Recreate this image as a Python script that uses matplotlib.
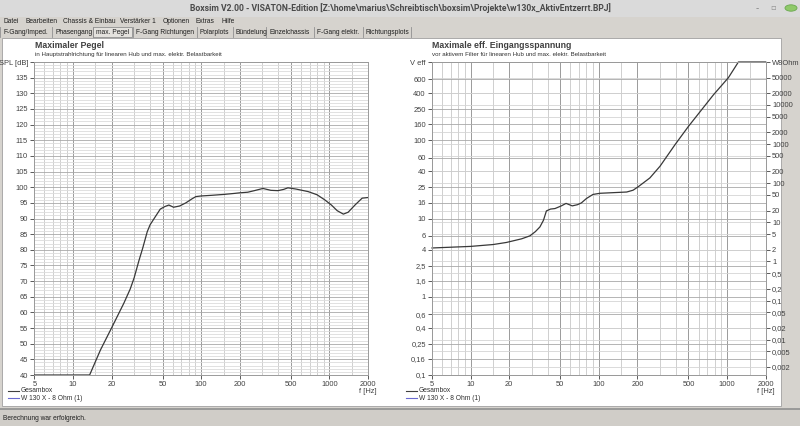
import numpy as np
import matplotlib.pyplot as plt
from matplotlib.patches import Rectangle, Circle
from matplotlib.lines import Line2D
from matplotlib.ticker import FixedLocator, NullFormatter

# ---- data ----
spl_freq = [5, 10, 13.5, 16.4, 20, 25, 28, 30, 32.7, 35, 38, 40, 43, 48, 52, 56, 61, 68, 76, 85, 91,
            100, 120, 151, 180, 200, 231, 260, 303, 350, 397, 440, 475, 550, 682, 800, 917,
            1037, 1150, 1285, 1400, 1583, 1800, 2000]
spl_db = [40, 40, 40, 48, 55, 63, 67.5, 71, 76.5, 80.5, 85.8, 88, 90, 93, 93.8, 94.3, 93.6, 94, 95, 96.3, 97,
          97.2, 97.4, 97.7, 98, 98.2, 98.4, 98.9, 99.6, 99, 98.9, 99.3, 99.8, 99.4, 98.6, 97.6, 96,
          94.3, 92.5, 91.4, 92, 94.3, 96.5, 96.7]

volt_freq = [5, 10, 15, 19, 25, 29, 32, 34.7, 37, 39, 42, 45.5, 51, 55.5, 62, 68, 73, 80, 90,
             102, 130, 165, 185, 203, 250, 300, 393, 499, 630, 782, 1024, 1225, 2000]
volt = [4.2, 4.4, 4.65, 4.94, 5.5, 6.0, 6.8, 7.8, 9.5, 12.5, 13.2, 13.4, 14.5, 15.6, 14.5, 15.0, 15.8, 18, 20.3,
        21, 21.4, 21.8, 23, 25.5, 33, 46.6, 88, 150, 243, 380, 631, 1000, 1000]

freq_ticks = [5, 10, 20, 50, 100, 200, 500, 1000, 2000]
freq_minor = [6, 7, 8, 9, 15, 30, 40, 60, 70, 80, 90, 150, 300, 400, 600, 700, 800, 900, 1500]
spl_ticks = list(range(40, 140, 5))
volt_ticks = [0.1, 0.16, 0.25, 0.4, 0.6, 1, 1.6, 2.5, 4, 6, 10, 16, 25, 40, 60, 100, 160, 250, 400, 600]
volt_labels = ["0,1", "0,16", "0,25", "0,4", "0,6", "1", "1,6", "2,5", "4", "6", "10", "16", "25",
               "40", "60", "100", "160", "250", "400", "600"]
watt_ticks = [50000, 20000, 10000, 5000, 2000, 1000, 500, 200, 100, 50, 20, 10, 5, 2, 1, 0.5, 0.2,
              0.1, 0.05, 0.02, 0.01, 0.005, 0.002]
watt_labels = ["50000", "20000", "10000", "5000", "2000", "1000", "500", "200", "100", "50", "20",
               "10", "5", "2", "1", "0,5", "0,2", "0,1", "0,05", "0,02", "0,01", "0,005", "0,002"]

menu_items = ["Datei", "Bearbeiten", "Chassis & Einbau", "Verstärker 1", "Optionen", "Extras", "Hilfe"]
menu_x = [3, 25, 63, 120, 163, 195, 221]
tab_items = ["F-Gang/Imped.", "Phasengang", "max. Pegel", "F-Gang Richtungen", "Polarplots",
             "Bündelung", "Einzelchassis", "F-Gang elektr.", "Richtungsplots"]
tab_x = [3, 55, 96, 136, 200, 236, 269, 317, 366]

W, H = 800, 426
plt.rcParams['font.family'] = ['Liberation Sans', 'DejaVu Sans']
fig = plt.figure(figsize=(8, 4.26), dpi=100)
fig.patch.set_facecolor('#d6d3ce')


def fx(x):
    return x / W


def fy(y):
    return 1 - y / H


def rect(x0, y0, x1, y1, color, z=0, ec='none'):
    fig.add_artist(Rectangle((fx(x0), fy(y1)), fx(x1 - x0), (y1 - y0) / H,
                             transform=fig.transFigure, facecolor=color, edgecolor=ec, lw=0.6, zorder=z))


# window chrome
rect(0, 0, 800, 17, '#dadada')
fig.text(0.5, fy(8.5), "Boxsim V2.00 - VISATON-Edition [Z:\\home\\marius\\Schreibtisch\\boxsim\\Projekte\\w130x_AktivEntzerrt.BPJ]",
         ha='center', va='center', fontsize=6.2, fontweight='bold', color='#4a4a4a', family=['Roboto', 'DejaVu Sans'])
fig.text(fx(757), fy(8), "-", ha='center', va='center', fontsize=7, color='#808080')
fig.text(fx(773), fy(8), "▫", ha='center', va='center', fontsize=6, color='#909090', family=['DejaVu Sans'])
fig.add_artist(Circle((fx(791), fy(8)), 0.0075, transform=fig.transFigure, facecolor='#8fc96a',
                      edgecolor='#6aa84f', lw=0.6))
for t, x in zip(menu_items, menu_x):
    fig.text(fx(x), fy(21.5), t, ha='left', va='center', fontsize=4.8, color='#202020')
for t, x in zip(tab_items, tab_x):
    fig.text(fx(x), fy(32), t, ha='left', va='center', fontsize=4.8, color='#202020')
    fig.add_artist(Line2D([fx(x - 3), fx(x - 3)], [fy(27), fy(37)], transform=fig.transFigure,
                          color='#909090', lw=0.6))
fig.add_artist(Line2D([fx(411), fx(411)], [fy(27), fy(37)], transform=fig.transFigure, color='#909090', lw=0.6))
rect(93, 26.5, 132, 37, '#e4e2de', z=-1, ec='#909090')
rect(2, 38, 781, 406, 'white', ec='#a0a0a0')
rect(0, 409, 800, 426, '#d0cdc8')
fig.add_artist(Line2D([0, 1], [fy(409), fy(409)], transform=fig.transFigure, color='#909090', lw=1.2))
fig.text(fx(3), fy(418), "Berechnung war erfolgreich.", ha='left', va='center', fontsize=4.8, color='#202020')

tick_col = '#404040'


def setup_freq(ax):
    ax.set_xscale('log')
    ax.set_xlim(5, 2000)
    ax.xaxis.set_major_locator(FixedLocator(freq_ticks))
    ax.xaxis.set_minor_locator(FixedLocator(freq_minor))
    ax.xaxis.set_minor_formatter(NullFormatter())
    ax.set_xticklabels([str(f) for f in freq_ticks])
    for f in freq_ticks:
        ax.axvline(f, color='#9a9a9a', lw=0.7, zorder=1)
    for f in freq_minor:
        ax.axvline(f, color='#c8c8c8', lw=0.6, zorder=1)
    ax.tick_params(axis='x', which='major', direction='out', length=3, width=0.6, labelsize=5.4,
                   colors=tick_col, pad=1.5)
    ax.tick_params(axis='x', which='minor', length=0)
    for s in ax.spines.values():
        s.set_color('#9a9a9a')
        s.set_linewidth(0.7)
    ax.text(1.0, -0.04, "f [Hz]", transform=ax.transAxes, ha='center', va='top', fontsize=5.4, color=tick_col)


# ---- left: maximaler Pegel ----
ax1 = fig.add_axes([fx(34.3), fy(375), fx(368 - 34.3), (375 - 62) / H])
setup_freq(ax1)
ax1.set_ylim(40, 140)
for v in range(40, 141):
    ax1.axhline(v, color='#a8a8a8' if v % 5 == 0 else '#dcdcdc', lw=0.6, zorder=1)
ax1.set_yticks(spl_ticks + [140])
ax1.set_yticklabels([str(v) for v in spl_ticks] + ["SPL [dB]"])
ax1.tick_params(axis='y', direction='out', length=3, width=0.6, labelsize=5.4, colors=tick_col, pad=1.5)
ax1.plot(spl_freq, spl_db, color='#383838', lw=0.9, zorder=3)
fig.text(fx(35), fy(45.5), "Maximaler Pegel", fontsize=6.3, fontweight='bold', color='#404040', va='center')
fig.text(fx(35), fy(54.5), "in Hauptstrahlrichtung für linearen Hub und max. elektr. Belastbarkeit",
         fontsize=4.4, color='#303030', va='center')

# ---- right: maximale Eingangsspannung ----
ax2 = fig.add_axes([fx(432), fy(375), fx(765.7 - 432), (375 - 62) / H])
setup_freq(ax2)
ax2.set_yscale('log')
ax2.set_ylim(0.1, 1000)
ax2.yaxis.set_minor_locator(FixedLocator([]))
ax2.set_yticks(volt_ticks + [1000])
ax2.set_yticklabels(volt_labels + ["V eff"])
ax2.tick_params(axis='y', direction='out', length=3, width=0.6, labelsize=5.4, colors=tick_col, pad=1.5)
for v in volt_ticks:
    ax2.axhline(v, color='#a8a8a8', lw=0.6, zorder=1)
for p in watt_ticks:
    ax2.axhline(np.sqrt(8 * p), color='#d4d4d4', lw=0.6, zorder=1)
ax2.plot(volt_freq, volt, color='#383838', lw=0.9, zorder=3, clip_on=False)
ax3 = ax2.twinx()
ax3.set_yscale('log')
ax3.set_ylim(0.1, 1000)
ax3.yaxis.set_minor_locator(FixedLocator([]))
ax3.set_yticks([np.sqrt(8 * p) for p in watt_ticks] + [1000])
ax3.set_yticklabels(watt_labels + ["W8Ohm"])
ax3.tick_params(axis='y', direction='out', length=3, width=0.6, labelsize=5.4, colors=tick_col, pad=1.5)
for s in ax3.spines.values():
    s.set_color('#9a9a9a')
    s.set_linewidth(0.7)
fig.text(fx(432), fy(45.5), "Maximale eff. Eingangsspannung", fontsize=6.3, fontweight='bold', color='#404040', va='center')
fig.text(fx(432), fy(54.5), "vor aktivem Filter für linearen Hub und max. elektr. Belastbarkeit",
         fontsize=4.4, color='#303030', va='center')

# legends
for x0 in (8, 406):
    fig.add_artist(Line2D([fx(x0), fx(x0 + 11)], [fy(391), fy(391)], transform=fig.transFigure, color='#404040', lw=0.8))
    fig.add_artist(Line2D([fx(x0), fx(x0 + 11)], [fy(398), fy(398)], transform=fig.transFigure, color='#6a6ad0', lw=0.8))
    fig.text(fx(x0 + 13), fy(391), "Gesambox", fontsize=4.8, color='#303030', va='center')
    fig.text(fx(x0 + 13), fy(398), "W 130 X - 8 Ohm (1)", fontsize=4.8, color='#303030', va='center')

fig.savefig("out.png", dpi=100, facecolor=fig.get_facecolor())
